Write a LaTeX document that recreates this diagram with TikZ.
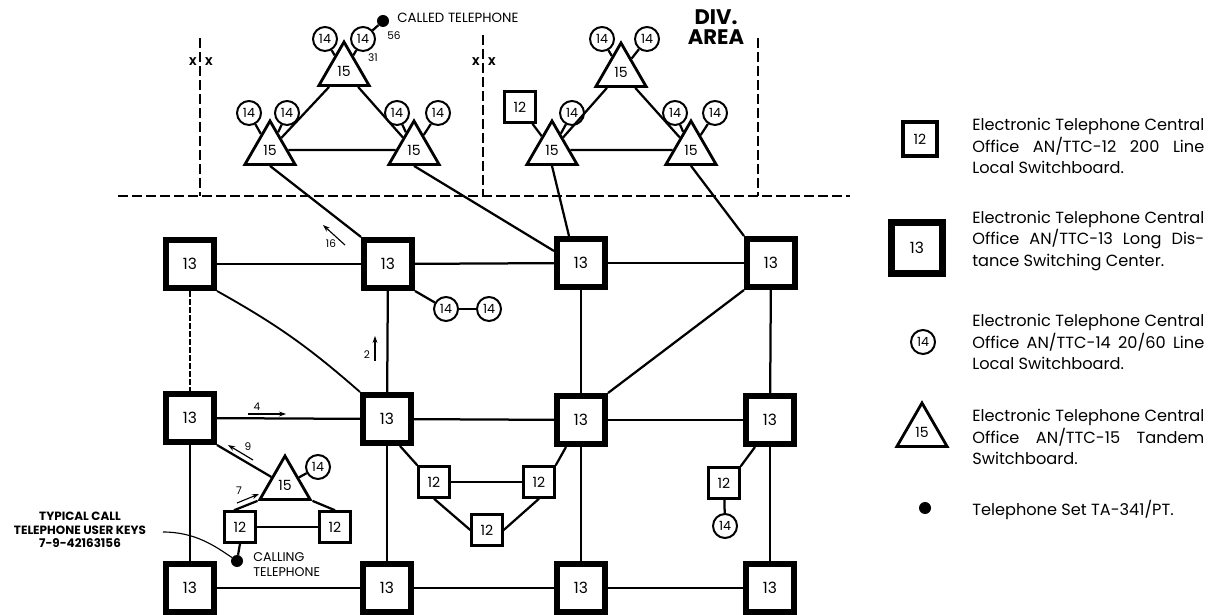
\documentclass[tikz,border=0pt]{standalone}
\usepackage{fontspec}
\setmainfont{Poppins}
\usetikzlibrary{shapes.geometric,arrows.meta}
\newcommand{\jl}[1]{\makebox[5.8cm][s]{#1}}
\begin{document}
\begin{tikzpicture}[x=0.025cm,y=-0.025cm,
 bigbox/.style={draw, line width=0.15cm, minimum size=1.2cm, inner sep=0pt, font=\fontsize{11}{11}\selectfont},
 smallbox/.style={draw, line width=1.6pt, minimum size=0.78cm, inner sep=0pt, font=\fontsize{10}{10}\selectfont},
 circ/.style={draw, circle, line width=1.4pt, minimum size=0.6cm, inner sep=0pt, font=\fontsize{9}{9}\selectfont},
 tri/.style={draw, regular polygon, regular polygon sides=3, line width=2pt, minimum size=1.45cm, inner sep=0pt, font=\fontsize{10}{10}\selectfont},
 phone/.style={circle, fill, minimum size=0.3cm, inner sep=0pt},
 link/.style={line width=1.6pt},
 bound/.style={dash pattern=on 0.25cm off 0.1cm, line width=0.8pt},
 callarrow/.style={line width=0.8pt, -{Stealth[length=5pt,width=3.5pt]}},
 lbl/.style={font=\fontsize{7.5}{7.5}\selectfont, inner sep=0pt},
 caps/.style={font=\fontsize{9}{10.7}\selectfont, inner sep=0pt},
 legtext/.style={align=left, inner sep=0pt, font=\fontsize{11.5}{15.3}\selectfont},
]
\useasboundingbox (0,0) rectangle (1217,615);

% ---- boundary lines
\coordinate (hl) at (118,196); \coordinate (hr) at (850,196);
\coordinate (v1t) at (200,38); \coordinate (v1b) at (200,196);
\coordinate (v2t) at (483,35); \coordinate (v2b) at (483,196);
\coordinate (v3t) at (758,38); \coordinate (v3b) at (758,196);
\draw[bound] (hl) -- (hr);
\draw[bound] (v1t) -- (v1b);
\draw[bound] (v2t) -- (v2b);
\draw[bound] (v3t) -- (v3b);
\node[lbl, font=\bfseries\fontsize{8}{8}\selectfont] (x1) at (193,62) {X};
\node[lbl, font=\bfseries\fontsize{8}{8}\selectfont] (x2) at (209,62) {X};
\node[lbl, font=\bfseries\fontsize{8}{8}\selectfont] (x3) at (476,62) {X};
\node[lbl, font=\bfseries\fontsize{8}{8}\selectfont] (x4) at (492,62) {X};
\node[inner sep=0pt, align=center, font=\bfseries\fontsize{15}{14}\selectfont] (div) at (716,27) {DIV.\\AREA};

% ---- upper left division
\node[tri] (T1) at (344,71) {15};
\node[tri] (T2) at (270,150) {15};
\node[tri] (T3) at (414,150) {15};
\node[circ] (c1) at (325,39) {14};
\node[circ] (c2) at (363,39) {14};
\node[circ] (c3) at (249,113) {14};
\node[circ] (c4) at (287,113) {14};
\node[circ] (c5) at (397,113) {14};
\node[circ] (c6) at (438,113) {14};
\node[phone] (called) at (383,21) {};
\node[lbl, anchor=west, font=\fontsize{9.5}{9.5}\selectfont] (calledtxt) at (397,18) {CALLED TELEPHONE};
\node[lbl] (n56) at (394,36) {56};
\node[lbl] (n31) at (373,58) {31};
\draw[link] (T1) -- (T2);
\draw[link] (T1) -- (T3);
\draw[link] (T2) -- (T3);
\draw[link] (c1) -- (T1);
\draw[link] (c2) -- (T1);
\draw[link] (c3) -- (T2);
\draw[link] (c4) -- (T2);
\draw[link] (c5) -- (T3);
\draw[link] (c6) -- (T3);
\draw[link] (c2) -- (called);

% ---- upper right division
\node[tri] (T4) at (621,72) {15};
\node[tri] (T5) at (552,150) {15};
\node[tri] (T6) at (691,150) {15};
\node[circ] (c7) at (602,39) {14};
\node[circ] (c8) at (647,39) {14};
\node[smallbox] (s1) at (520,107) {12};
\node[circ] (c9) at (572,113) {14};
\node[circ] (c10) at (675,113) {14};
\node[circ] (c11) at (715,113) {14};
\draw[link] (T4) -- (T5);
\draw[link] (T4) -- (T6);
\draw[link] (T5) -- (T6);
\draw[link] (c7) -- (T4);
\draw[link] (c8) -- (T4);
\draw[link] (s1) -- (T5);
\draw[link] (c9) -- (T5);
\draw[link] (c10) -- (T6);
\draw[link] (c11) -- (T6);

% ---- grid of 13s
\node[bigbox] (a) at (190,264) {13};
\node[bigbox] (b) at (388,264) {13};
\node[bigbox] (c) at (581,263) {13};
\node[bigbox] (d) at (771,263) {13};
\node[bigbox] (e) at (190,418) {13};
\node[bigbox] (f) at (387,419) {13};
\node[bigbox] (g) at (581,420) {13};
\node[bigbox] (h) at (770,420) {13};
\node[bigbox] (i) at (190,588) {13};
\node[bigbox] (j) at (387,588) {13};
\node[bigbox] (k) at (581,588) {13};
\node[bigbox] (l) at (770,588) {13};

\draw[link] (a) -- (b);
\draw[link] (b) -- (c);
\draw[link] (c) -- (d);
\draw[link] (e) -- (f);
\draw[link] (f) -- (g);
\draw[link] (g) -- (h);
\draw[link] (i) -- (j);
\draw[link] (j) -- (k);
\draw[link] (k) -- (l);
\draw[line width=1pt, dash pattern=on 0.15cm off 0.05cm] (a) -- (e);
\draw[link] (b) -- (f);
\draw[link] (c) -- (g);
\draw[link] (d) -- (h);
\draw[link] (e) -- (i);
\draw[link] (f) -- (j);
\draw[link] (g) -- (k);
\draw[link] (h) -- (l);
\draw[line width=1.3pt] (a.south east) to[bend left=6] (f.north west);
\draw[link] (d.south west) -- (g.north east);

% links from divisions
\draw[link] (T2.south) -- (b.north west);
\draw[link] (T3.south) -- ([yshift=0.3cm]c.west);
\draw[link] (T5.south) -- ([xshift=-0.3cm]c.north);
\draw[link] (T6.south) -- (d.north west);

% 13b local switchboards
\node[circ] (c12) at (446,309) {14};
\node[circ] (c13) at (489,309) {14};
\draw[link] (b.south east) -- (c12);
\draw[link] (c12) -- (c13);

% ---- lower left
\node[tri] (T7) at (285,485) {15};
\node[circ] (c14) at (318,467) {14};
\node[smallbox] (A) at (240,527) {12};
\node[smallbox] (B) at (335,527) {12};
\node[phone] (calling) at (237,561) {};
\draw[link] (e.south east) -- (T7);
\draw[link] (T7) -- (c14);
\draw[link] (T7.corner 2) -- ([xshift=-0.15cm]A.north);
\draw[link] (T7.corner 3) -- (B.north);
\draw[link] (A) -- (B);
\draw[link] (A.south) -- (calling);
\node[caps, anchor=west, align=left] (callingtxt) at (253,565) {CALLING\\TELEPHONE};
\node[caps, align=center, font=\bfseries\fontsize{8.5}{9.8}\selectfont] (typ) at (80,530) {TYPICAL CALL\\TELEPHONE USER KEYS\\7-9-42163156};
\coordinate (lead) at (163,532);
\draw[line width=0.8pt] (lead) .. controls (195,532) and (215,546) .. (calling);

% ---- middle cluster
\node[smallbox] (C) at (434,482) {12};
\node[smallbox] (D) at (539,482) {12};
\node[smallbox] (E) at (487,530) {12};
\draw[link] ([xshift=-0.35cm]f.south east) -- (C.north west);
\draw[link] (D.north east) -- ([xshift=0.3cm]g.south west);
\draw[link] (C) -- (D);
\draw[link] (C.south) -- (E.west);
\draw[link] (D.south) -- (E.east);

% ---- right
\node[smallbox] (F) at (724,483) {12};
\node[circ] (c15) at (725,526) {14};
\draw[link] (F.north east) -- ([xshift=0.3cm]h.south west);
\draw[link] (F) -- (c15);

% ---- call path arrows
\coordinate (a16s) at (345,245); \coordinate (a16e) at (323,225);
\draw[callarrow] (a16s) -- (a16e);
\node[lbl] (l16) at (331,244) {16};
\coordinate (a2s) at (375,361); \coordinate (a2e) at (375,336);
\draw[callarrow] (a2s) -- (a2e);
\node[lbl] (l2) at (367,355) {2};
\coordinate (a4s) at (248,414); \coordinate (a4e) at (286,414);
\draw[callarrow] (a4s) -- (a4e);
\node[lbl] (l4) at (257,407) {4};
\coordinate (a9s) at (253,460); \coordinate (a9e) at (228,445);
\draw[callarrow] (a9s) -- (a9e);
\node[lbl] (l9) at (248,447) {9};
\coordinate (a7s) at (237,503); \coordinate (a7e) at (259,494);
\draw[callarrow] (a7s) -- (a7e);
\node[lbl] (l7) at (239,491) {7};

% ---- legend
\node[smallbox, line width=2.4pt, minimum size=0.85cm] (k12) at (920,139) {12};
\node[bigbox, minimum size=1.28cm, line width=0.17cm] (k13) at (917,248) {13};
\node[circ] (k14) at (923,342) {14};
\node[tri] (k15) at (922,432) {15};
\node[phone] (kph) at (925,508) {};
\node[legtext, anchor=west] (t12) at (972,146) {\jl{Electronic Telephone Central}\\\jl{Office AN/TTC-12 200 Line}\\Local Switchboard.};
\node[legtext, anchor=west] (t13) at (972,241) {\jl{Electronic Telephone Central}\\\jl{Office AN/TTC-13 Long Dis-}\\tance Switching Center.};
\node[legtext, anchor=west] (t14) at (972,342) {\jl{Electronic Telephone Central}\\\jl{Office AN/TTC-14 20/60 Line}\\Local Switchboard.};
\node[legtext, anchor=west] (t15) at (972,437) {\jl{Electronic Telephone Central}\\\jl{Office AN/TTC-15 Tandem}\\Switchboard.};
\node[legtext, anchor=west] (tph) at (972,510) {Telephone Set TA-341/PT.};
\end{tikzpicture}
\end{document}
